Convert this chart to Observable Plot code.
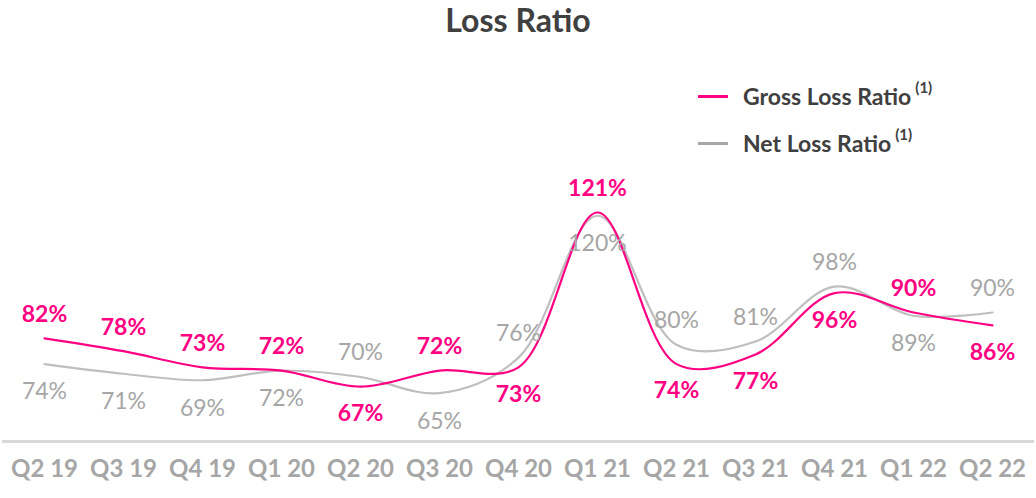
<!DOCTYPE html>
<html>
<head>
<meta charset="utf-8">
<script src="https://cdn.jsdelivr.net/npm/d3@7"></script>
<script src="https://cdn.jsdelivr.net/npm/@observablehq/plot@0.6"></script>
<style>
  html, body { margin: 0; padding: 0; background: #fff; }
  body { width: 1036px; height: 498px; position: relative; overflow: hidden; font-family: Lato, "Open Sans", sans-serif; }
  #title { height: 40px; line-height: normal; text-align: center; font-size: 32px; font-weight: bold; color: #404040; }
  .legend-item { position: absolute; left: 698px; font-size: 23px; font-weight: bold; color: #404040; white-space: nowrap; line-height: 26px; }
  .legend-item .sw { display: inline-block; width: 30px; height: 3px; vertical-align: middle; margin-right: 15px; position: relative; top: -2px; }
  .legend-item sup { font-size: 15px; position: relative; top: -3px; margin-left: 4px; }
</style>
</head>
<body>
<div id="title">Loss Ratio</div>
<div id="chart"></div>
<div class="legend-item" style="top:77px"><span class="sw" style="background:#ff0083"></span>Gross Loss Ratio<sup>(1)</sup></div>
<div class="legend-item" style="top:124px"><span class="sw" style="background:#a6a6a6"></span>Net Loss Ratio<sup>(1)</sup></div>
<script>
const quarters = ["Q2 19","Q3 19","Q4 19","Q1 20","Q2 20","Q3 20","Q4 20","Q1 21","Q2 21","Q3 21","Q4 21","Q1 22","Q2 22"];
const grossLossRatio = [82, 78, 73, 72, 67, 72, 73, 121, 74, 77, 96, 90, 86];
const netLossRatio   = [74, 71, 69, 72, 70, 65, 76, 120, 80, 81, 98, 89, 90];

const pink = "#ff0083";
const grayLine = "#bfbfbf";
const grayText = "#a6a6a6";

const gross = quarters.map((q, i) => ({q, v: grossLossRatio[i], other: netLossRatio[i]}));
const net = quarters.map((q, i) => ({q, v: netLossRatio[i], other: grossLossRatio[i]}));

const chart = Plot.plot({
  width: 1036,
  height: 458,
  marginLeft: 2,
  marginRight: 2,
  marginTop: 143,
  marginBottom: 57,
  style: {fontFamily: "Lato, 'Open Sans', sans-serif", background: "transparent", overflow: "visible"},
  x: {type: "point", domain: quarters, label: null},
  y: {domain: [50, 130], axis: null},
  marks: [
    Plot.ruleY([50], {stroke: "#d9d9d9", strokeWidth: 3}),
    Plot.axisX({tickSize: 0, tickPadding: 18, fontSize: 24, fontWeight: "bold", color: grayText, label: null}),
    Plot.line(net, {x: "q", y: "v", stroke: grayLine, strokeWidth: 2.2, curve: "catmull-rom"}),
    Plot.line(gross, {x: "q", y: "v", stroke: pink, strokeWidth: 2.2, curve: "catmull-rom"}),
    Plot.text(gross.filter(d => d.v >= d.other), {x: "q", y: "v", text: d => d.v + "%", dy: -24, fill: pink, fontSize: 23, fontWeight: "bold", lineAnchor: "middle"}),
    Plot.text(gross.filter(d => d.v < d.other), {x: "q", y: "v", text: d => d.v + "%", dy: 27, fill: pink, fontSize: 23, fontWeight: "bold", lineAnchor: "middle"}),
    Plot.text(net.filter(d => d.v > d.other), {x: "q", y: "v", text: d => d.v + "%", dy: -24, fill: grayText, fontSize: 23, lineAnchor: "middle"}),
    Plot.text(net.filter(d => d.v <= d.other), {x: "q", y: "v", text: d => d.v + "%", dy: 28, fill: grayText, fontSize: 23, lineAnchor: "middle"})
  ]
});
document.getElementById("chart").appendChild(chart);
</script>
</body>
</html>
